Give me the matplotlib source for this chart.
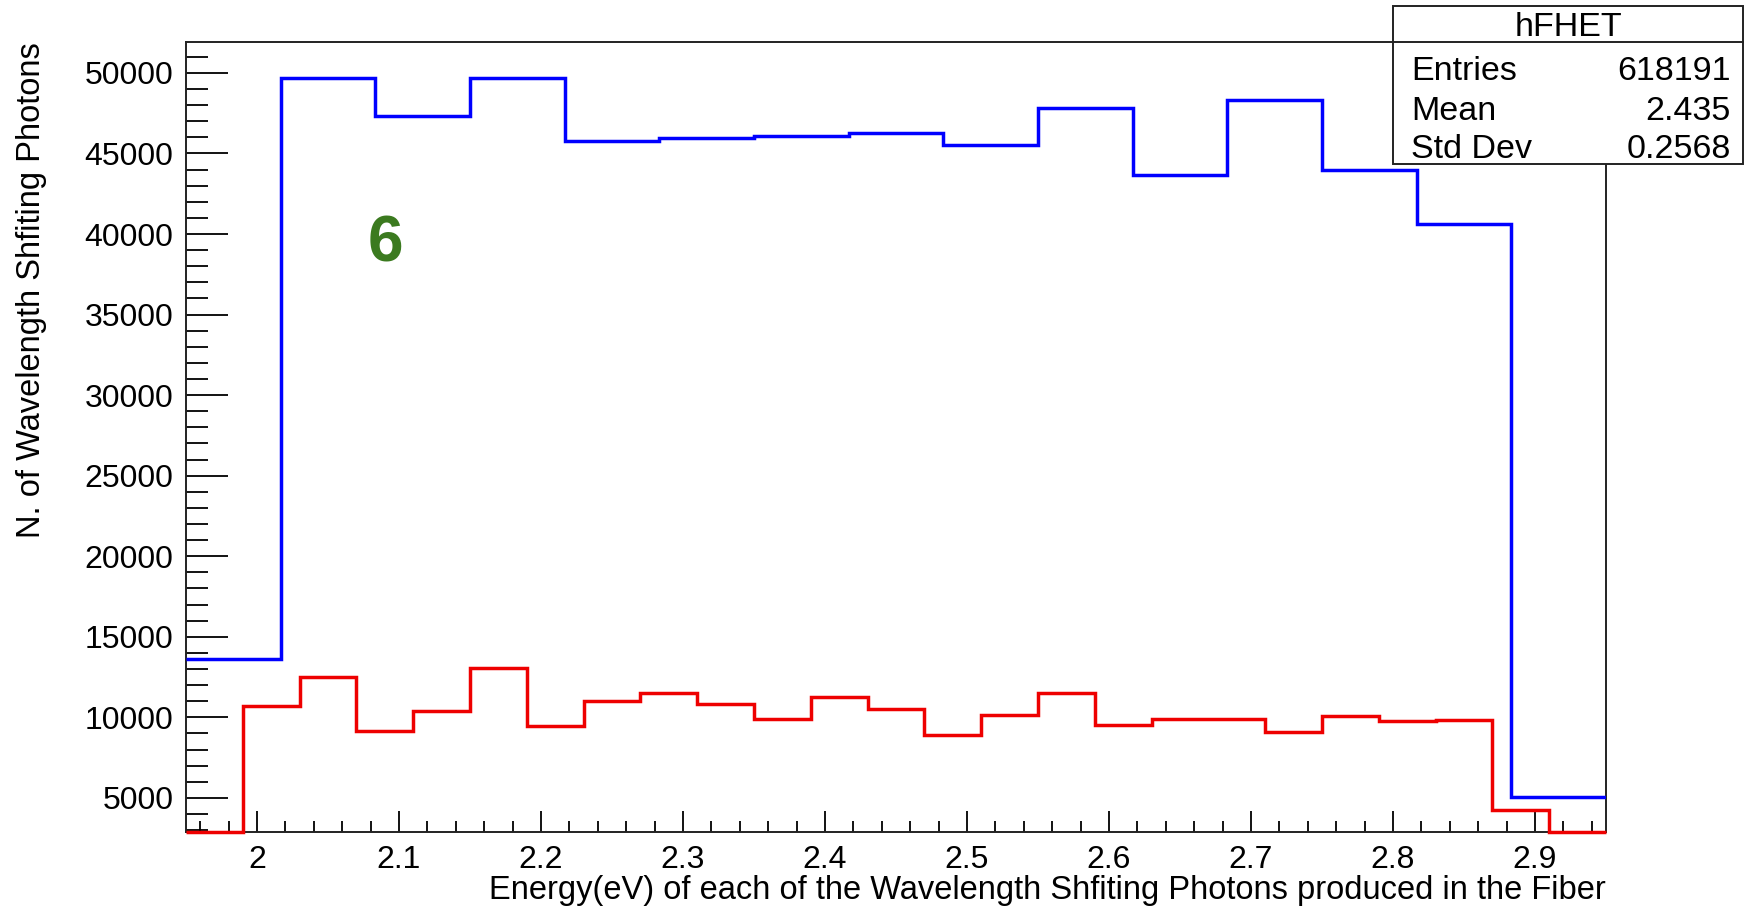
import numpy as np
import matplotlib
matplotlib.use('Agg')
import matplotlib.pyplot as plt
from matplotlib.patches import Rectangle
from matplotlib.lines import Line2D
from matplotlib.ticker import MultipleLocator

plt.rcParams['font.family'] = ['Liberation Sans', 'DejaVu Sans']

# histogram range (eV)
x_lo, x_hi = 1.95, 2.95

# blue histogram: 15 bins
blue_counts = [13600, 49700, 47300, 49700, 45800, 45950, 46100, 46300,
               45550, 47800, 43650, 48350, 44000, 40650, 5050]

# red histogram: 25 bins
red_counts = [2600, 10680, 12480, 9150, 10400, 13040, 9430, 11030, 11510,
              10820, 9920, 11240, 10540, 8880, 10120, 11510, 9500, 9920,
              9920, 9090, 10050, 9780, 9850, 4230, 2600]

stats_name = 'hFHET'
stats_rows = [('Entries', '618191'), ('Mean', '2.435'), ('Std Dev', '0.2568')]

y_lo, y_hi = 2880, 51920

W, H = 1748, 909
fig = plt.figure(figsize=(W / 100, H / 100), dpi=100)
ax = fig.add_axes([186 / W, 1 - 832 / H, (1606 - 186) / W, (832 - 42) / H])

blue_edges = np.linspace(x_lo, x_hi, len(blue_counts) + 1)
red_edges = np.linspace(x_lo, x_hi, len(red_counts) + 1)

# ROOT draws values outside the frame on its edge
ax.stairs(np.clip(red_counts, y_lo, y_hi), red_edges, baseline=None,
          color='#ee0000', lw=2.5, clip_on=False, zorder=3)
ax.stairs(np.clip(blue_counts, y_lo, y_hi), blue_edges, baseline=None,
          color='#0000ff', lw=2.5, zorder=3)

ax.set_xlim(x_lo, x_hi)
ax.set_ylim(y_lo, y_hi)

ax.xaxis.set_major_locator(MultipleLocator(0.1))
ax.xaxis.set_minor_locator(MultipleLocator(0.02))
ax.yaxis.set_major_locator(MultipleLocator(5000))
ax.yaxis.set_minor_locator(MultipleLocator(1000))
ax.xaxis.set_major_formatter(plt.FuncFormatter(lambda v, p: ('%.1f' % v).rstrip('0').rstrip('.')))

ax.tick_params(axis='both', which='both', direction='in', width=1.3,
               colors='black', labelsize=23, top=False, right=False)
ax.tick_params(axis='x', which='major', length=15, pad=9)
ax.tick_params(axis='x', which='minor', length=7.7)
ax.tick_params(axis='y', which='major', length=30, pad=9)
ax.tick_params(axis='y', which='minor', length=15.5)

for s in ax.spines.values():
    s.set_linewidth(1.4)
    s.set_color('#222222')

ax.set_xlabel('Energy(eV) of each of the Wavelength Shfiting Photons produced in the Fiber',
              fontsize=23.5, loc='right')
ax.xaxis.set_label_coords(1.0, -0.054)
ax.xaxis.label.set_va('top')
ax.set_ylabel('N. of Wavelength Shfiting Photons', fontsize=23.5, loc='top')
ax.yaxis.set_label_coords(-0.098, 1.0)

ax.text(385 / W, 1 - 245 / H, '6', transform=fig.transFigure, fontsize=46,
        fontweight='bold', color='#3b7a1f', ha='center', va='center')

# stats box
bx0, bx1, by0, by1, bsep = 1393, 1743, 6, 164, 42
fig.patches.append(Rectangle((bx0 / W, 1 - by1 / H), (bx1 - bx0) / W, (by1 - by0) / H,
                             transform=fig.transFigure, facecolor='white',
                             edgecolor='#222222', lw=1.4, zorder=5))
fig.lines.append(Line2D([bx0 / W, bx1 / W], [1 - bsep / H, 1 - bsep / H],
                        transform=fig.transFigure, color='#222222', lw=1.4, zorder=6))
fig.text((bx0 + bx1) / 2 / W, 1 - 27 / H, stats_name, fontsize=24.5,
         ha='center', va='center', zorder=7)
row_y = [71, 111, 149]
for (lab, val), yy in zip(stats_rows, row_y):
    fig.text(1411 / W, 1 - yy / H, lab, fontsize=24.5, ha='left', va='center', zorder=7)
    fig.text(1731 / W, 1 - yy / H, val, fontsize=24.5, ha='right', va='center', zorder=7)

fig.savefig('out.png', dpi=100)
